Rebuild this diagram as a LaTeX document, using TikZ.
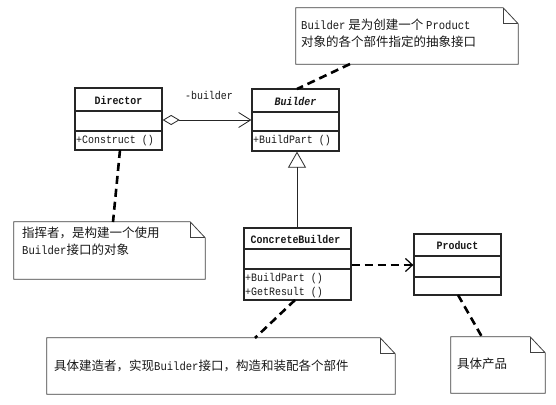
\documentclass[tikz,border=0pt]{standalone}
\usepackage{fontspec}
\setmainfont{Liberation Mono}[FakeStretch=0.88]
\newfontfamily\cjk{Noto Sans CJK SC}
\usetikzlibrary{arrows.meta}
\newcommand\lat[1]{{\rmfamily\fontsize{12}{17}\selectfont #1}}
\newcommand\dognote[1]{%
  \draw[noteline] (#1.north west) -- ([xshift=-15pt]#1.north east)
     -- ([yshift=-16pt]#1.north east) -- (#1.south east) -- (#1.south west) -- cycle;
  \draw[noteline] ([xshift=-15pt]#1.north east) -- ([xshift=-15pt,yshift=-16pt]#1.north east)
     -- ([yshift=-16pt]#1.north east);}
\begin{document}
\begin{tikzpicture}[x=1pt,y=-1pt,
  classbox/.style={draw=black!85, line width=1.3pt, rectangle, inner sep=0pt},
  divider/.style={draw=black!85, line width=1.1pt},
  hdr/.style={inner sep=0pt, font=\fontsize{11.3}{13}\selectfont\bfseries, text=black!90},
  member/.style={inner sep=0pt, anchor=west, font=\fontsize{11.3}{13}\selectfont, text=black!90},
  notebox/.style={rectangle, inner sep=0pt},
  noteline/.style={draw=black!75, line width=0.8pt},
  notetext/.style={inner sep=0pt, align=left, font=\cjk\fontsize{12.5}{17}\selectfont, text=black!90},
  notelink/.style={draw=black, line width=2.6pt, dash pattern=on 8pt off 5pt},
  assoc/.style={draw=black!85, line width=0.8pt},
  plain/.style={inner sep=0pt, font=\fontsize{11.3}{13}\selectfont, text=black!90}
]
\useasboundingbox[fill=white] (0,0) rectangle (556,404);

% ---------- classes ----------
\node[classbox, minimum width=87pt, minimum height=62pt] (director) at (118.5,119) {};
\draw[divider] (director.west |- 0,111) -- (director.east |- 0,111);
\draw[divider] (director.west |- 0,131) -- (director.east |- 0,131);
\node[hdr] (directorname) at (118.5,100) {Director};
\node[member] (construct) at (76,141) {+Construct ()};

\node[classbox, minimum width=87pt, minimum height=62pt] (builder) at (295.5,120) {};
\draw[divider] (builder.west |- 0,112) -- (builder.east |- 0,112);
\draw[divider] (builder.west |- 0,131) -- (builder.east |- 0,131);
\node[hdr, font=\fontsize{11.3}{13}\selectfont\bfseries\itshape] (buildername) at (295.5,101) {Builder};
\node[member] (buildpart) at (253,141) {+BuildPart ()};

\node[classbox, minimum width=107pt, minimum height=72pt] (cb) at (297.5,264) {};
\draw[divider] (cb.west |- 0,249) -- (cb.east |- 0,249);
\draw[divider] (cb.west |- 0,269) -- (cb.east |- 0,269);
\node[hdr] (cbname) at (295.5,239) {ConcreteBuilder};
\node[member] (cbpart) at (245,278.5) {+BuildPart ()};
\node[member] (cbresult) at (245,292.5) {+GetResult ()};

\node[classbox, minimum width=87pt, minimum height=61pt] (product) at (457.5,264.5) {};
\draw[divider] (product.west |- 0,256) -- (product.east |- 0,256);
\draw[divider] (product.west |- 0,277) -- (product.east |- 0,277);
\node[hdr] (productname) at (457.5,245) {Product};

% ---------- relations ----------
\draw[assoc, {Diamond[open,length=17pt,width=10pt,line width=0.8pt]}-{Straight Barb[length=12pt,width=15pt,line width=0.8pt]}]
  (director.east |- 0,120) -- (builder.west |- 0,120);
\node[plain] (rolelabel) at (209,95) {-builder};

\draw[assoc, -{Triangle[open,length=16pt,width=18pt,line width=0.8pt]}]
  (cb.north -| 297,0) -- (builder.south -| 297,0);

\draw[notelink, -{Straight Barb[length=7pt,width=13pt,line width=1.2pt]}]
  (cb.east |- 0,265) -- (product.west |- 0,265);

% ---------- notes ----------
\node[notebox, minimum width=222pt, minimum height=56pt] (topnote) at (407,36) {};
\dognote{topnote}
\node[notetext, anchor=north west] (topnotetext) at (301,19)
  {\lat{Builder} 是为创建一个 \lat{Product}\\对象的各个部件指定的抽象接口};

\node[notebox, minimum width=191pt, minimum height=57pt] (dirnote) at (109.5,250.5) {};
\dognote{dirnote}
\node[notetext, anchor=north west] (dirnotetext) at (22,227)
  {指挥者，是构建一个使用\\\lat{Builder}接口的对象};

\node[notebox, minimum width=348pt, minimum height=56pt] (cbnote) at (221,366) {};
\dognote{cbnote}
\node[notetext, anchor=west] (cbnotetext) at (54,366)
  {具体建造者，实现\lat{Builder}接口，构造和装配各个部件};

\node[notebox, minimum width=94pt, minimum height=56pt] (prodnote) at (498,365) {};
\dognote{prodnote}
\node[notetext, anchor=west] (prodnotetext) at (457,364) {具体产品};

% ---------- note links ----------
\coordinate (tn) at (350,64);
\coordinate (bt) at (297,89);
\draw[notelink] (tn) -- (bt);
\coordinate (db) at (120,150);
\coordinate (dn) at (113,222);
\draw[notelink] (db) -- (dn);
\coordinate (cbb) at (295,300);
\coordinate (cbn) at (255,338);
\draw[notelink] (cbb) -- (cbn);
\coordinate (pb) at (458,295);
\coordinate (pn) at (482,337);
\draw[notelink] (pb) -- (pn);
\end{tikzpicture}
\end{document}
